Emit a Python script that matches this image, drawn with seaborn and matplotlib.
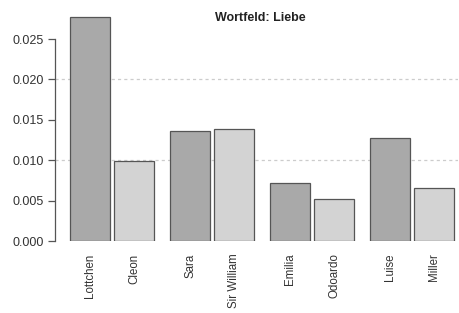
import numpy as np
import pandas as pd
import matplotlib
matplotlib.use("Agg")
import matplotlib.pyplot as plt
import seaborn as sns

# Data
figures = ["Lottchen", "Cleon", "Sara", "Sir William", "Emilia", "Odoardo", "Luise", "Miller"]
values = [0.0277, 0.0099, 0.0136, 0.0139, 0.0072, 0.0052, 0.0128, 0.0066]
role = ["a", "b", "a", "b", "a", "b", "a", "b"]
yticks = [0.000, 0.005, 0.010, 0.015, 0.020, 0.025]
title = "Wortfeld: Liebe"

sns.set_theme(style="white")
plt.rcParams["font.family"] = ["Liberation Sans", "DejaVu Sans"]

# positions: pairs of bars, small gap within pair, larger gap between pairs
xpos = [(i // 2) * 2.5 + (i % 2) * 1.1 for i in range(len(figures))]
df = pd.DataFrame({"x": xpos, "value": values, "role": role})

fig = plt.figure(figsize=(4.59, 3.13), dpi=100)
ax = fig.add_axes([55 / 459, 72 / 313, (458 - 55) / 459, (303 - 72) / 313])

for yv in [0.010, 0.020]:
    ax.axhline(yv, color="#cccccc", lw=0.9, ls=(0, (2.5, 2.5)), zorder=0)

sns.barplot(data=df, x="x", y="value", hue="role", native_scale=True, dodge=False,
            palette={"a": "#a9a9a9", "b": "#d3d3d3"}, width=1 / 1.1,
            edgecolor="#555555", linewidth=0.9, legend=False, ax=ax, zorder=2)

ax.set_xlim(-0.875, 9.2)
ax.set_ylim(0, 0.0286)
ax.set_yticks(yticks)
ax.set_yticklabels([f"{t:.3f}" for t in yticks], fontsize=9, color="#333333")
ax.set_xticks(xpos)
ax.set_xticklabels(figures, rotation=90, fontsize=8.3, color="#333333")
ax.tick_params(axis="x", length=0, pad=9)
ax.tick_params(axis="y", length=5, width=0.9, color="#555555", left=True, direction="out", pad=3)
ax.set_xlabel("")
ax.set_ylabel("")
for s in ["top", "right", "bottom"]:
    ax.spines[s].set_visible(False)
ax.spines["left"].set_bounds(0, 0.025)
ax.spines["left"].set_color("#555555")
ax.spines["left"].set_linewidth(0.9)
ax.grid(False)

fig.text(260 / 459, 1 - 18 / 313, title, ha="center", va="center", fontsize=9, fontweight="bold", color="#222222")

fig.savefig("out.png", dpi=100)
